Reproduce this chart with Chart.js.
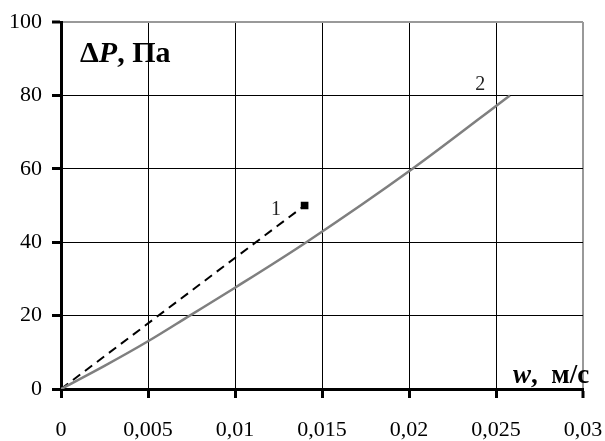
<!DOCTYPE html>
<html>
<head>
<meta charset="utf-8">
<script src="https://cdn.jsdelivr.net/npm/chart.js@4.4.1/dist/chart.umd.min.js"></script>
<style>
  html, body { margin: 0; padding: 0; background: #fff; }
  #wrap { width: 605px; height: 441px; }
</style>
</head>
<body>
<div id="wrap"><canvas id="dp_canvas" width="605" height="441"></canvas></div>
<script>
// curve 2 (solid grey)
var w2 = [0, 0.0025, 0.005, 0.0074, 0.01, 0.0141, 0.0202, 0.0258];
var dp2 = [0, 6.3, 13, 20, 27.6, 40, 60, 80];
// curve 1 (dashed, ends with a square marker)
var w1 = [0, 0.014];
var dp1 = [0, 50];

var xTickLabels = ['0', '0,005', '0,01', '0,015', '0,02', '0,025', '0,03'];
var yTickLabels = ['0', '20', '40', '60', '80', '100'];

var serif = "'Liberation Serif', 'Times New Roman', serif";

function pts(xs, ys) {
    var out = [];
    for (var i = 0; i < xs.length; i++) out.push({x: xs[i], y: ys[i]});
    return out;
}

// axis titles and curve numbers
var labelsPlugin = {
    id: 'labels',
    afterDraw: function(chart) {
        var c = chart.ctx;
        var xs = chart.scales.x, ys = chart.scales.y;
        c.save();
        c.fillStyle = '#000';
        c.textBaseline = 'alphabetic';

        // ΔP, Па
        var x = 80, y = 62;
        c.font = 'bold 30px ' + serif;
        c.fillText('\u0394', x, y);
        x += c.measureText('\u0394').width;
        c.font = 'italic bold 30px ' + serif;
        c.fillText('P', x, y);
        x += c.measureText('P').width;
        c.font = 'bold 30px ' + serif;
        c.fillText(', \u041f\u0430', x, y);

        // w, м/с
        x = 513; y = 383;
        c.font = 'italic bold 27px ' + serif;
        c.fillText('w', x, y);
        x += c.measureText('w').width;
        c.font = 'bold 27px ' + serif;
        c.fillText(',  \u043c/\u0441', x, y);

        // curve numbers
        c.font = '20px ' + serif;
        c.fillStyle = '#222';
        c.textAlign = 'center';
        c.fillText('1', xs.getPixelForValue(0.01235), ys.getPixelForValue(47.5));
        c.fillText('2', xs.getPixelForValue(0.0241), ys.getPixelForValue(81.5));
        c.restore();
    }
};

function isLast(ctx, v) {
    return ctx.tick && Math.abs(ctx.tick.value - v) < 1e-9;
}

var chart = new Chart(document.getElementById('dp_canvas'), {
    type: 'scatter',
    data: {
        datasets: [{
            label: '2',
            data: pts(w2, dp2),
            showLine: true,
            borderColor: '#7f7f7f',
            borderWidth: 2.5,
            pointRadius: 0,
            cubicInterpolationMode: 'monotone'
        }, {
            label: '1',
            data: pts(w1, dp1),
            showLine: true,
            borderColor: '#000',
            borderWidth: 2,
            borderDash: [9, 6],
            pointStyle: 'rect',
            pointRadius: [0, 4],
            pointBackgroundColor: '#000',
            pointBorderColor: '#000'
        }]
    },
    options: {
        responsive: false,
        animation: false,
        events: [],
        layout: { padding: { top: 22, right: 22, left: 0, bottom: 0 } },
        plugins: {
            legend: { display: false },
            tooltip: { enabled: false }
        },
        scales: {
            x: {
                type: 'linear',
                min: 0,
                max: 0.03,
                afterFit: function(s) {
                    s.height = 52;
                    s.paddingLeft = 0;
                    s.paddingRight = 0;
                },
                ticks: {
                    stepSize: 0.005,
                    padding: 19,
                    color: '#000',
                    font: { family: serif, size: 22 },
                    callback: function(v, i) { return xTickLabels[i]; }
                },
                grid: {
                    color: function(ctx) { return isLast(ctx, 0.03) ? '#999' : '#000'; },
                    lineWidth: function(ctx) { return isLast(ctx, 0.03) ? 2 : 1; },
                    tickColor: '#000',
                    tickWidth: 3,
                    tickLength: 9
                },
                border: { color: '#000', width: 3 }
            },
            y: {
                min: 0,
                max: 100,
                afterFit: function(s) {
                    s.width = 61;
                    s.paddingTop = 0;
                    s.paddingBottom = 0;
                },
                ticks: {
                    stepSize: 20,
                    padding: 10,
                    color: '#000',
                    font: { family: serif, size: 22 },
                    callback: function(v, i) { return yTickLabels[i]; }
                },
                grid: {
                    color: function(ctx) { return isLast(ctx, 100) ? '#999' : '#000'; },
                    lineWidth: function(ctx) { return isLast(ctx, 100) ? 2 : 1; },
                    tickColor: '#000',
                    tickWidth: 3,
                    tickLength: 9
                },
                border: { color: '#000', width: 3 }
            }
        }
    },
    plugins: [labelsPlugin]
});
</script>
</body>
</html>
